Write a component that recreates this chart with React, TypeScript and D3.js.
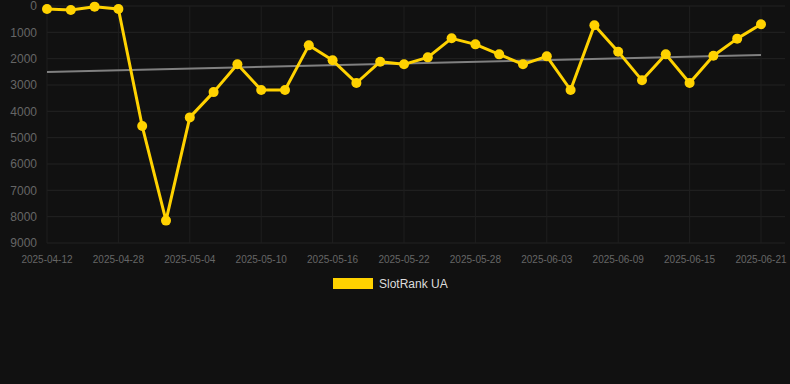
import React from "react";
import * as d3 from "d3";

const dates = [
  "2025-04-12", "2025-04-18", "2025-04-24", "2025-04-28", "2025-04-30", "2025-05-02",
  "2025-05-04", "2025-05-06", "2025-05-08", "2025-05-10", "2025-05-12", "2025-05-14",
  "2025-05-16", "2025-05-18", "2025-05-20", "2025-05-22", "2025-05-24", "2025-05-26",
  "2025-05-28", "2025-05-30", "2025-06-01", "2025-06-03", "2025-06-05", "2025-06-07",
  "2025-06-09", "2025-06-11", "2025-06-13", "2025-06-15", "2025-06-17", "2025-06-19",
  "2025-06-21",
];
const ranks = [
  115, 150, 25, 115, 4560, 8150, 4230, 3270, 2215, 3190, 3190, 1494, 2063, 2924, 2114,
  2215, 1950, 1228, 1456, 1836, 2215, 1912, 3190, 734, 1734, 2823, 1836, 2924, 1886,
  1240, 696,
];
const yTicks = [0, 1000, 2000, 3000, 4000, 5000, 6000, 7000, 8000, 9000];
const seriesName = "SlotRank UA";

const W = 790;
const H = 384;
const left = 47;
const right = 785;
const top = 6;
const bottom = 243;
const lastX = 761;

export default function App() {
  const x = d3.scalePoint<string>().domain(dates).range([left, lastX]);
  const y = d3.scaleLinear().domain([0, 9000]).range([top, bottom]);

  const n = ranks.length;
  const idx = d3.range(n);
  const mx = d3.mean(idx)!;
  const my = d3.mean(ranks)!;
  const slope =
    d3.sum(idx, (i) => (i - mx) * (ranks[i] - my)) / d3.sum(idx, (i) => (i - mx) * (i - mx));
  const trend = (i: number) => my + slope * (i - mx);

  const line = d3
    .line<number>()
    .x((_, i) => x(dates[i])!)
    .y((v) => y(v));

  const tickDates = dates.filter((_, i) => i % 3 === 0);

  return (
    <svg
      width={W}
      height={H}
      style={{ position: "absolute", left: 0, top: 0, background: "#111111" }}
      fontFamily="'Liberation Sans', Arial, sans-serif"
    >
      <rect x={0} y={0} width={W} height={H} fill="#111111" />
      {yTicks.map((t) => (
        <line key={"h" + t} x1={left} x2={right} y1={y(t)} y2={y(t)} stroke="#232323" strokeWidth={1} />
      ))}
      {tickDates.map((d) => (
        <line key={"v" + d} x1={x(d)} x2={x(d)} y1={top} y2={bottom} stroke="#1f1f1f" strokeWidth={1} />
      ))}
      {yTicks.map((t) => (
        <text
          key={"yl" + t}
          x={37}
          y={y(t)}
          dy="0.35em"
          textAnchor="end"
          fontSize={12}
          fill="#666666"
        >
          {t}
        </text>
      ))}
      {tickDates.map((d) => (
        <text key={"xl" + d} x={x(d)} y={259} dy="0.35em" textAnchor="middle" fontSize={10} fill="#666666">
          {d}
        </text>
      ))}
      <line
        x1={x(dates[0])}
        x2={x(dates[n - 1])}
        y1={y(trend(0))}
        y2={y(trend(n - 1))}
        stroke="#808080"
        strokeWidth={2}
      />
      <path d={line(ranks) || ""} fill="none" stroke="#FFD200" strokeWidth={3} strokeLinejoin="round" />
      {ranks.map((v, i) => (
        <circle key={"p" + i} cx={x(dates[i])} cy={y(v)} r={5} fill="#FFD200" />
      ))}
      <rect x={333} y={278} width={40} height={11} fill="#FFD200" />
      <text x={379} y={284} dy="0.35em" fontSize={12} fill="#dddddd">
        {seriesName}
      </text>
    </svg>
  );
}
